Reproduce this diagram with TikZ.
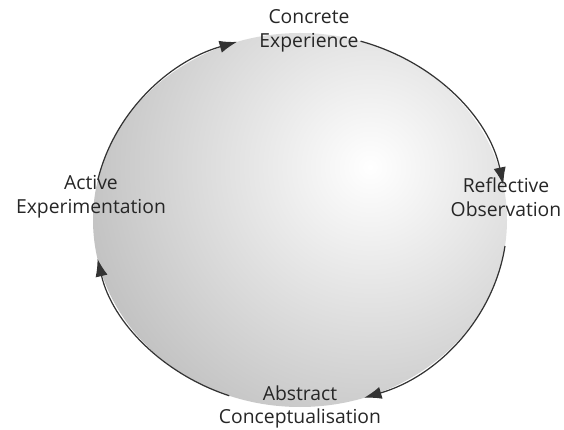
\documentclass[tikz,border=0pt]{standalone}
\usepackage{fontspec}
\setmainfont{Open Sans}
\usetikzlibrary{arrows.meta}
\tikzset{
  cyclearc/.style={line width=0.7pt, color=black!80, -{Latex[length=10pt,width=7pt]}},
  stage/.style={align=center, font=\fontsize{11}{13.5}\selectfont, text=black!85, inner sep=1pt},
}
\begin{document}
\begin{tikzpicture}[x=0.02cm,y=0.02cm]
		%%%%% START %%%%%
		\useasboundingbox (0,0) rectangle (564,429);
		
		\coordinate (ctr) at (300,209);
		\begin{scope}
			\clip (ctr) ellipse [x radius=207, y radius=187];
			\shade[inner color=white, outer color=black!28] (370,262) circle (340);
		\end{scope}
		
		\node[stage] (ce) at (309,398) {Concrete\\Experience};
		\node[stage] (ro) at (506,232) {Reflective\\Observation};
		\node[stage] (ac) at (300,22) {Abstract\\Conceptualisation};
		\node[stage] (ae) at (91,232) {Active\\Experimentation};
		
		\path (ctr) ++(167.6:207 and 187) coordinate (ae-out);
		\path (ctr) ++(73:207 and 187) coordinate (ce-out);
		\path (ctr) ++(-8:207 and 187) coordinate (ro-out);
		\path (ctr) ++(-110:207 and 187) coordinate (ac-out);
		
		\draw[cyclearc] (ae-out) arc[start angle=167.6, end angle=107.7, x radius=207, y radius=187];
		\draw[cyclearc] (ce-out) arc[start angle=73, end angle=10.8, x radius=207, y radius=187];
		\draw[cyclearc] (ro-out) arc[start angle=-8, end angle=-72, x radius=207, y radius=187];
		\draw[cyclearc] (ac-out) arc[start angle=-110, end angle=-168, x radius=207, y radius=187];
		
		%%%%% END %%%%%
	\end{tikzpicture}
\end{document}
